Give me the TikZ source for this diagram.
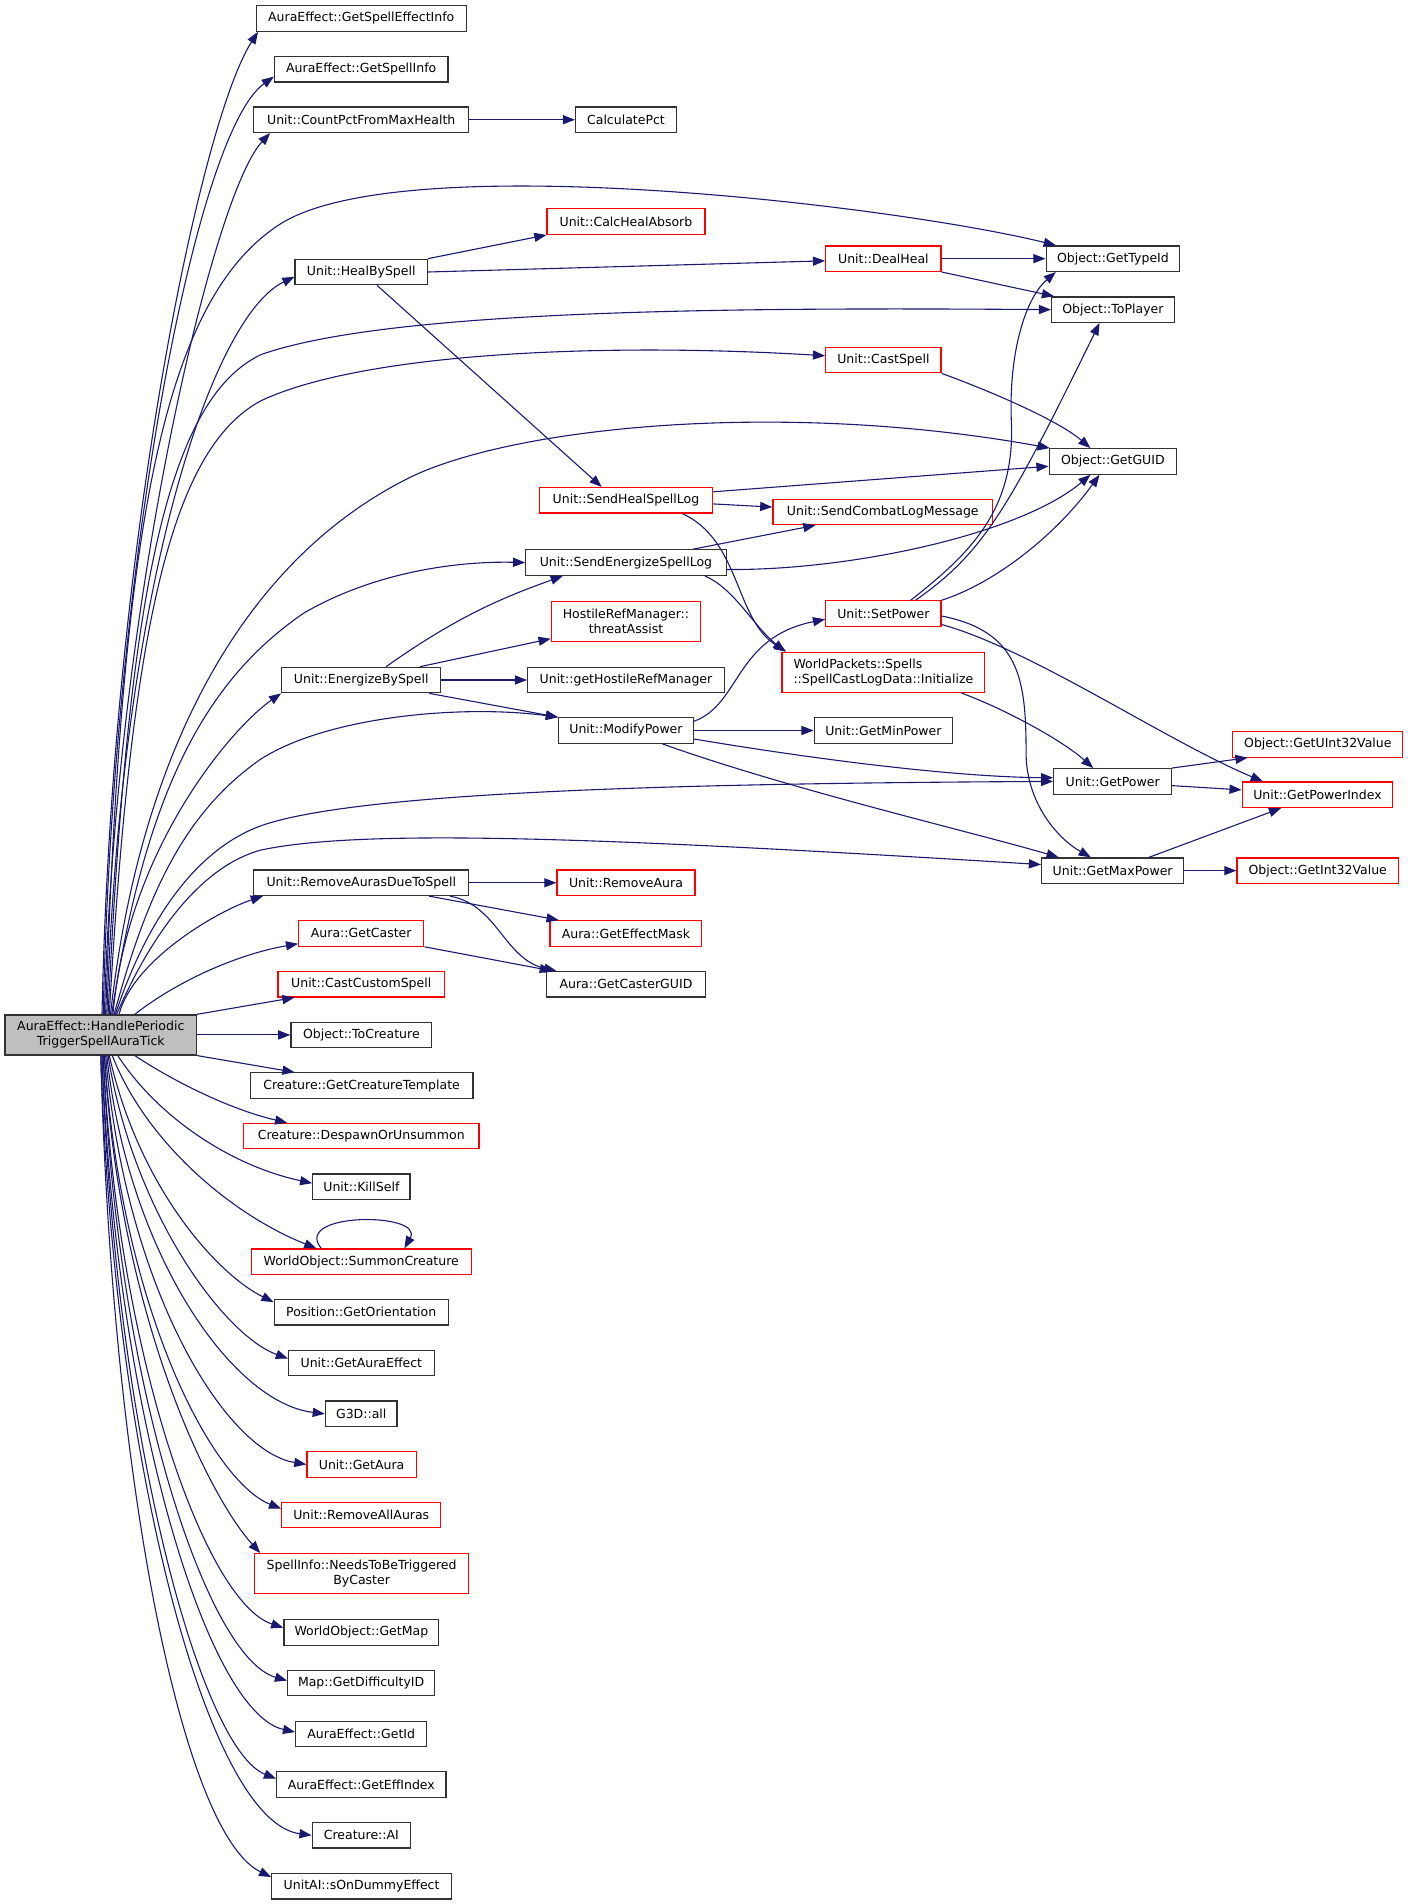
\documentclass[tikz,border=0pt]{standalone}
\usepackage{fontspec}
\setmainfont{DejaVu Sans}
\usetikzlibrary{arrows.meta}
\definecolor{navy}{RGB}{25,25,112}
\definecolor{boxgray}{RGB}{50,50,50}
\definecolor{boxred}{RGB}{255,0,0}
\definecolor{mainfill}{RGB}{191,191,191}
\tikzset{
  fn/.style={draw=boxgray, line width=1pt, fill=white, minimum height=21pt, inner sep=0pt,
             font=\fontsize{10.3}{12.4}\selectfont, text=black},
  rfn/.style={fn, draw=boxred},
  two/.style={minimum height=33pt, align=center},
  mainfn/.style={fn, two, fill=mainfill},
  conn/.style={draw=navy, line width=0.9pt, -{Triangle[length=10pt,width=7.5pt]}}
}
\begin{document}
\begin{tikzpicture}[x=1pt,y=-1pt]
\fill[white] (0,0) rectangle (1160,1568);
\useasboundingbox (0,0) rectangle (1160,1568);

% main node
\node[mainfn, minimum width=157.7pt] (M) at (83,852.3) {AuraEffect::HandlePeriodic\\TriggerSpellAuraTick};

% second column
\node[fn,  minimum width=173pt] (a1) at (297.5,15.2) {AuraEffect::GetSpellEffectInfo};
\node[fn,  minimum width=143pt] (a2) at (297.5,57.1) {AuraEffect::GetSpellInfo};
\node[fn,  minimum width=177pt] (a3) at (297.5,98.6) {Unit::CountPctFromMaxHealth};
\node[fn,  minimum width=109pt] (heal) at (297.5,224) {Unit::HealBySpell};
\node[fn,  minimum width=131pt] (energize) at (297.5,560) {Unit::EnergizeBySpell};
\node[fn,  minimum width=177pt] (removeauras) at (297.5,727) {Unit::RemoveAurasDueToSpell};
\node[rfn, minimum width=103pt] (getcaster) at (297.5,768.7) {Aura::GetCaster};
\node[rfn, minimum width=137pt] (castcustom) at (297.5,810.5) {Unit::CastCustomSpell};
\node[fn,  minimum width=116pt] (tocreature) at (297.6,852.3) {Object::ToCreature};
\node[fn,  minimum width=183.5pt] (crtemplate) at (297.8,894) {Creature::GetCreatureTemplate};
\node[rfn, minimum width=194pt] (despawn) at (297.5,935.6) {Creature::DespawnOrUnsummon};
\node[fn,  minimum width=80pt] (killself) at (297.6,977.4) {Unit::KillSelf};
\node[rfn, minimum width=181pt] (summon) at (297.5,1039) {WorldObject::SummonCreature};
\node[fn,  minimum width=143.4pt] (orient) at (297.5,1080.7) {Position::GetOrientation};
\node[fn,  minimum width=120pt] (auraeffect) at (297.6,1122.5) {Unit::GetAuraEffect};
\node[fn,  minimum width=59pt] (g3d) at (297.5,1164.3) {G3D::all};
\node[rfn, minimum width=90pt] (getaura) at (297.8,1206) {Unit::GetAura};
\node[rfn, minimum width=131pt] (removeall) at (297.5,1247.7) {Unit::RemoveAllAuras};
\node[rfn, two, minimum width=176pt] (needs) at (297.8,1296) {SpellInfo::NeedsToBeTriggered\\ByCaster};
\node[fn,  minimum width=127.6pt] (getmap) at (297.6,1344.4) {WorldObject::GetMap};
\node[fn,  minimum width=121pt] (difficulty) at (297.4,1386) {Map::GetDifficultyID};
\node[fn,  minimum width=108pt] (getid) at (297.5,1428) {AuraEffect::GetId};
\node[fn,  minimum width=139.5pt] (effindex) at (297.6,1469.6) {AuraEffect::GetEffIndex};
\node[fn,  minimum width=81pt] (creatureai) at (297.6,1511.4) {Creature::AI};
\node[fn,  minimum width=148pt] (dummy) at (297.8,1553.3) {UnitAI::sOnDummyEffect};

% third column
\node[fn,  minimum width=83pt] (calc) at (515.5,98.6) {CalculatePct};
\node[rfn, minimum width=130pt] (absorb) at (515.5,182.5) {Unit::CalcHealAbsorb};
\node[rfn, minimum width=143pt] (sendheal) at (515.5,412) {Unit::SendHealSpellLog};
\node[fn,  minimum width=165pt] (sendenergize) at (515.5,463.3) {Unit::SendEnergizeSpellLog};
\node[rfn, two, minimum width=123pt] (threat) at (515.5,511.7) {HostileRefManager::\\threatAssist};
\node[fn,  minimum width=162pt] (ghrm) at (515.5,560) {Unit::getHostileRefManager};
\node[fn,  minimum width=111pt] (modpower) at (515.5,601.6) {Unit::ModifyPower};
\node[rfn, minimum width=113.6pt] (removeaura) at (515.5,727) {Unit::RemoveAura};
\node[rfn, minimum width=125pt] (effectmask) at (515.5,768.7) {Aura::GetEffectMask};
\node[fn,  minimum width=131pt] (castguid) at (515.5,810.5) {Aura::GetCasterGUID};

% fourth column
\node[rfn, minimum width=95pt] (dealheal) at (727.5,213) {Unit::DealHeal};
\node[rfn, minimum width=95pt] (castspell) at (727.5,296.5) {Unit::CastSpell};
\node[rfn, minimum width=181pt] (sclm) at (727,421.6) {Unit::SendCombatLogMessage};
\node[rfn, minimum width=95pt] (setpower) at (727.5,505.3) {Unit::SetPower};
\node[rfn, minimum width=167pt, minimum height=33pt, align=left] (wp) at (727.5,553.6) {WorldPackets::Spells\\::SpellCastLogData::Initialize};
\node[fn,  minimum width=114pt] (minpower) at (727.5,601.6) {Unit::GetMinPower};

% fifth column
\node[fn,  minimum width=110pt] (typeid) at (916.5,213) {Object::GetTypeId};
\node[fn,  minimum width=101pt] (toplayer) at (916.5,255) {Object::ToPlayer};
\node[fn,  minimum width=105pt] (guid) at (916.5,380) {Object::GetGUID};
\node[fn,  minimum width=97pt] (getpower) at (916.3,643.5) {Unit::GetPower};
\node[fn,  minimum width=117pt] (maxpower) at (916.3,717) {Unit::GetMaxPower};

% sixth column
\node[rfn, minimum width=140pt] (uint32) at (1085.3,613) {Object::GetUInt32Value};
\node[rfn, minimum width=124pt] (powerindex) at (1085,654.5) {Unit::GetPowerIndex};
\node[rfn, minimum width=133pt] (int32) at (1085.2,717) {Object::GetInt32Value};

% ---- edges from main, upward
\draw[conn] ([xshift=1pt]M.north) .. controls (92,450) and (165,100) .. ([xshift=2pt]a1.south west);
\draw[conn] ([xshift=2pt]M.north) .. controls (93,470) and (160,110) .. ([yshift=5pt]a2.south west);
\draw[conn] ([xshift=3pt]M.north) .. controls (95,500) and (175,160) .. ([xshift=14pt]a3.south west);
\draw[conn] ([xshift=4pt]M.north) .. controls (100,450) and (130,250) .. (230,185) .. controls (330,120) and (740,170) .. ([xshift=8.5pt]typeid.north west);
\draw[conn] ([xshift=5pt]M.north) .. controls (100,480) and (175,260) .. ([yshift=-4pt]heal.west);
\draw[conn] ([xshift=6pt]M.north) .. controls (105,500) and (135,330) .. (215,292) .. controls (320,255) and (600,253) .. (toplayer.west);
\draw[conn] ([xshift=7pt]M.north) .. controls (108,520) and (140,370) .. (215,330) .. controls (300,290) and (500,282) .. ([yshift=3.5pt]castspell.west);
\draw[conn] ([xshift=8pt]M.north) .. controls (115,620) and (200,460) .. (340,392) .. controls (430,350) and (650,330) .. ([xshift=1pt]guid.north west);
\draw[conn] ([xshift=9pt]M.north) .. controls (120,650) and (170,560) .. (250,505) .. controls (310,470) and (380,462) .. (sendenergize.west);
\draw[conn] ([xshift=10pt]M.north) .. controls (105,700) and (190,600) .. (energize.south west);
\draw[conn] ([xshift=11pt]M.north) .. controls (120,740) and (150,670) .. (215,625) .. controls (270,590) and (380,580) .. (modpower.north west);
\draw[conn] ([xshift=12pt]M.north) .. controls (120,760) and (160,700) .. (215,680) .. controls (300,650) and (600,645) .. (getpower.west);
\draw[conn] ([xshift=13pt]M.north) .. controls (120,780) and (160,715) .. (215,700) .. controls (300,682) and (500,690) .. ([yshift=5pt]maxpower.west);
\draw[conn] ([xshift=15pt]M.north) .. controls (110,790) and (180,750) .. ([xshift=8pt]removeauras.south west);
\draw[conn] ([xshift=28pt]M.north) .. controls (150,805) and (200,785) .. ([yshift=2.5pt]getcaster.south west);
\draw[conn] (M.north east) -- ([xshift=14pt]castcustom.south west);

% ---- edges from main, downward
\draw[conn] (M.east) -- (tocreature.west);
\draw[conn] (M.south east) -- ([xshift=37pt]crtemplate.north west);
\draw[conn] ([xshift=28pt]M.south) .. controls (150,895) and (195,915) .. ([xshift=36.5pt]despawn.north west);
\draw[conn] ([xshift=14pt]M.south) .. controls (130,920) and (190,960) .. ([yshift=3pt]killself.west);
\draw[conn] ([xshift=9.5pt]M.south) .. controls (120,940) and (190,1000) .. ([xshift=54pt]summon.north west);
\draw[conn] ([xshift=7pt]M.south) .. controls (115,980) and (180,1050) .. ([yshift=-2.6pt]orient.north west);
\draw[conn] ([xshift=6pt]M.south) .. controls (110,1000) and (185,1100) .. ([yshift=3.7pt]auraeffect.west);
\draw[conn] ([xshift=5pt]M.south) .. controls (105,1030) and (190,1155) .. (g3d.west);
\draw[conn] ([xshift=4pt]M.south) .. controls (103,1060) and (185,1195) .. (getaura.west);
\draw[conn] ([xshift=3pt]M.south) .. controls (100,1080) and (175,1220) .. ([yshift=5.3pt]removeall.west);
\draw[conn] ([xshift=3pt]M.south) .. controls (98,1080) and (170,1230) .. ([xshift=5pt]needs.north west);
\draw[conn] ([xshift=2pt]M.south) .. controls (97,1120) and (170,1320) .. ([yshift=4pt]getmap.west);
\draw[conn] ([xshift=2pt]M.south) .. controls (96,1140) and (170,1365) .. ([yshift=2pt]difficulty.west);
\draw[conn] ([xshift=1pt]M.south) .. controls (95,1160) and (170,1410) .. ([yshift=1.6pt]getid.west);
\draw[conn] ([xshift=1pt]M.south) .. controls (94,1180) and (165,1440) .. ([yshift=4.8pt]effindex.west);
\draw[conn] (M.south) .. controls (93,1200) and (170,1500) .. (creatureai.west);
\draw[conn] (M.south) .. controls (92,1220) and (150,1510) .. ([yshift=7.5pt]dummy.west);

% ---- other edges
\draw[conn] (a3.east) -- (calc.west);
\draw[conn] (heal.north east) -- (absorb.south west);
\draw[conn] (heal.east) -- ([yshift=-1.8pt]dealheal.west);
\draw[conn] ([xshift=13pt]heal.south) -- ([xshift=-20pt]sendheal.north);
\draw[conn] (dealheal.east) -- (typeid.west);
\draw[conn] (dealheal.south east) -- ([xshift=2.5pt]toplayer.north west);
\draw[conn] (castspell.south east) .. controls (810,320) and (870,345) .. ([xshift=-18.5pt]guid.north);
\draw[conn] ([yshift=7pt]sendheal.east) -- ([yshift=-4pt]guid.west);
\draw[conn] ([yshift=-3pt]sendheal.east) -- ([yshift=4pt]sclm.west);
\draw[conn] ([xshift=46.5pt]sendheal.south) .. controls (610,445) and (605,510) .. ([xshift=4pt]wp.north west);
\draw[conn] ([xshift=-28pt]sendenergize.north east) -- ([xshift=35.5pt]sclm.south west);
\draw[conn] ([yshift=-5.7pt]sendenergize.east) .. controls (700,470) and (840,440) .. ([xshift=-18.5pt]guid.south);
\draw[conn] ([xshift=-18pt]sendenergize.south east) .. controls (605,485) and (620,515) .. ([xshift=3pt]wp.north west);
\draw[conn] ([xshift=20.5pt]energize.north) .. controls (380,505) and (420,490) .. ([xshift=31pt]sendenergize.south west);
\draw[conn] ([xshift=48.5pt]energize.north) -- ([yshift=2.7pt]threat.south west);
\draw[conn] (energize.east) -- (ghrm.west);
\draw[conn] ([xshift=-10pt]energize.south east) -- (modpower.north west);
\draw[conn] ([yshift=7.6pt]modpower.east) .. controls (610,580) and (605,525) .. ([yshift=-4.7pt]setpower.west);
\draw[conn] (modpower.east) -- (minpower.west);
\draw[conn] ([yshift=-7pt]modpower.east) .. controls (700,630) and (800,640) .. ([yshift=3pt]getpower.west);
\draw[conn] ([xshift=30pt]modpower.south) .. controls (650,650) and (800,685) .. ([xshift=14.5pt]maxpower.north west);
\draw[conn] ([xshift=22.5pt]setpower.north) .. controls (800,455) and (835,420) .. (833,350) .. controls (830,290) and (845,245) .. ([xshift=8.5pt]typeid.south west);
\draw[conn] ([xshift=26.5pt]setpower.north) .. controls (810,455) and (830,420) .. ([xshift=-11pt]toplayer.south);
\draw[conn] (setpower.north east) .. controls (820,480) and (870,440) .. ([xshift=-11pt]guid.south);
\draw[conn] ([yshift=-9pt]setpower.east) .. controls (850,535) and (960,610) .. ([xshift=17.5pt]powerindex.north west);
\draw[conn] ([yshift=-2pt]setpower.east) .. controls (840,520) and (845,560) .. (845,620) .. controls (845,660) and (870,690) .. ([xshift=-18pt]maxpower.north);
\draw[conn] ([xshift=-20pt]wp.south east) .. controls (830,585) and (875,610) .. ([xshift=-16pt]getpower.north);
\draw[conn] (getpower.north east) -- ([xshift=12.6pt]uint32.south west);
\draw[conn] ([yshift=-3.5pt]getpower.east) -- ([yshift=4pt]powerindex.west);
\draw[conn] ([xshift=30pt]maxpower.north) -- ([xshift=32.5pt]powerindex.south west);
\draw[conn] (maxpower.east) -- (int32.west);
\draw[conn] (removeauras.east) -- (removeaura.west);
\draw[conn] ([xshift=-33pt]removeauras.south east) -- ([xshift=7.6pt]effectmask.north west);
\draw[conn] ([xshift=-16pt]removeauras.south east) .. controls (410,745) and (415,790) .. ([xshift=8.7pt]castguid.north west);
\draw[conn] (getcaster.south east) -- ([xshift=5pt]castguid.north west);
\draw[conn] ([xshift=-33pt]summon.north) .. controls (240,998) and (350,998) .. ([xshift=35.5pt]summon.north);
\end{tikzpicture}
\end{document}
